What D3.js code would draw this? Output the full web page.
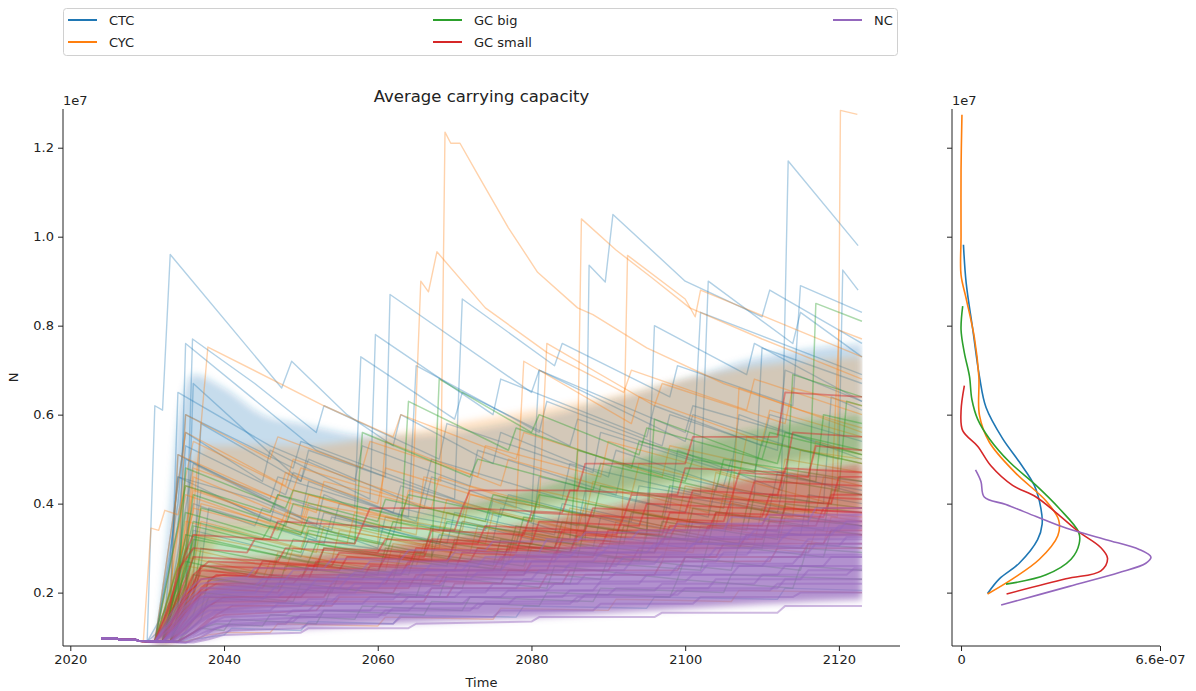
<!DOCTYPE html>
<html><head><meta charset="utf-8">
<script src="https://cdn.jsdelivr.net/npm/d3@7"></script>
<style>
html,body{margin:0;padding:0;background:#fff;}
text{font-family:"DejaVu Sans",sans-serif;fill:#222;}
</style></head>
<body><svg id="c" width="1196" height="691"></svg>
<script>
// ---------- DATA (values in millions; runs are flat [year, value, year, value ...]) ----------
const seriesNames = ["CTC","CYC","GC big","GC small","NC"];
const seriesColors = ["#1f77b4","#ff7f0e","#2ca02c","#d62728","#9467bd"];
const xTicks = [2020,2040,2060,2080,2100,2120];
const yTicks = [0.2,0.4,0.6,0.8,1.0,1.2];          // x 1e7
const densTicks = [0, 6.6e-7];
const densTickLabels = ["0","6.6e-07"];
const lastYear = 2123;
const startPhase = [2024,0.97, 2026,0.97, 2026.5,0.94, 2028.5,0.94, 2029,0.91];

// dense core of the many runs of each series: [year, low, high] (millions)
const ctcCore = [[2031.5,0.9,1.2],[2033,1.0,4.0],[2034,1.5,5.8],[2036,2.8,6.9],[2040,3.5,6.6],[2045,3.5,6.0],[2050,3.5,5.8],[2060,3.6,5.5],[2070,3.8,5.6],[2080,4.0,5.9],[2090,4.3,6.3],[2100,4.6,6.8],[2110,4.9,7.3],[2123,5.2,7.6]];
const cycCore = [[2032,0.9,1.2],[2033,0.9,2.5],[2035,1.5,4.5],[2038,2.8,5.3],[2040,3.3,5.3],[2050,3.4,5.3],[2060,3.5,5.5],[2070,3.7,5.8],[2080,3.9,6.1],[2090,4.2,6.4],[2100,4.5,6.8],[2110,4.8,7.1],[2123,5.0,7.3]];
const gcBigCore = [[2031.5,0.9,1.0],[2032,0.9,1.4],[2034,1.1,2.6],[2036,1.4,3.2],[2040,1.8,3.5],[2050,2.1,3.5],[2060,2.4,3.6],[2070,2.6,3.9],[2080,2.8,4.3],[2090,3.1,4.8],[2100,3.3,5.3],[2110,3.6,5.7],[2123,3.9,6.0]];
const gcSmallCore = [[2031,0.9,0.95],[2032,0.9,1.2],[2034,1.0,1.9],[2036,1.2,2.4],[2038,1.4,2.6],[2040,1.5,2.7],[2050,1.8,2.8],[2060,2.0,3.0],[2070,2.2,3.25],[2080,2.4,3.55],[2090,2.6,3.9],[2100,2.8,4.3],[2110,3.0,4.6],[2123,3.3,4.9]];
const ncCore = [[2030.5,0.88,0.92],[2032,0.9,1.1],[2034,0.92,1.5],[2036,0.95,1.9],[2038,1.0,2.1],[2040,1.1,2.25],[2050,1.2,2.4],[2060,1.3,2.55],[2070,1.38,2.72],[2080,1.45,2.9],[2090,1.55,3.15],[2100,1.65,3.4],[2110,1.75,3.6],[2123,1.85,3.8]];

const ctcRuns = [
 [2030,0.9, 2031,6.2, 2032,6.1, 2033,9.6, 2047.5,6.6, 2048.8,7.2, 2056,6.0, 2062,5.3, 2063,6.0, 2075,4.9, 2076,5.6, 2090,4.6, 2091,5.2, 2105,4.4, 2106,5.0, 2123,4.2],
 [2030,0.9, 2034,1.5, 2035,7.6, 2052,5.2, 2061,4.6, 2061.6,8.7, 2080,6.5, 2081,7.0, 2100,5.6, 2101,6.2, 2123,5.1],
 [2031,0.9, 2033,2.0, 2034,5.1, 2050,3.7, 2051,4.5, 2065,3.6, 2066,4.3, 2087,3.2, 2087.5,9.36, 2089.6,8.98, 2090.6,10.5, 2100,9.0, 2110,8.2, 2111,8.8, 2123,7.6],
 [2032,0.9, 2034,4.6, 2046,3.6, 2047,4.2, 2062,3.3, 2063,3.9, 2080,3.2, 2081,4.6, 2098,3.9, 2099,5.2, 2112.5,4.3, 2113.4,11.7, 2122.5,9.8],
 [2031,0.9, 2035,5.6, 2045,4.5, 2046,5.2, 2059,4.1, 2059.7,7.8, 2075,6.0, 2076,6.8, 2095,5.5, 2096,6.2, 2110,5.3, 2111,6.0, 2123,5.4],
 [2032,0.9, 2036,4.9, 2052,3.5, 2053,4.2, 2057,3.9, 2057.8,7.3, 2070,5.9, 2071,6.5, 2085,5.3, 2086,5.9, 2101,5.0, 2102,8.3, 2123,6.9],
 [2030,0.9, 2035,2.4, 2035.9,7.7, 2044,6.7, 2052,5.6, 2053,6.2, 2068,5.0, 2069,5.8, 2088,4.7, 2089,5.6, 2106,4.7, 2107,6.0, 2123,5.0],
 [2031,0.9, 2036,3.0, 2037,4.3, 2052,3.2, 2053,3.8, 2070,3.0, 2071,3.6, 2088,3.0, 2089,3.7, 2105,3.2, 2106,4.0, 2123,3.5],
 [2033,0.9, 2035,1.8, 2036,6.7, 2050,4.5, 2051,5.0, 2066,3.9, 2067,4.6, 2080,3.8, 2081,7.0, 2100,5.4, 2101,6.0, 2115,5.2, 2120,5.0, 2120.5,9.25, 2122.5,8.8],
 [2031,0.9, 2034,3.5, 2035,5.3, 2048,4.2, 2049,4.7, 2062,3.8, 2063,4.4, 2076,3.7, 2077,4.2, 2095,3.4, 2096,8.0, 2108,6.9, 2109,7.6, 2123,6.3],
 [2032,0.9, 2034,2.5, 2036,4.0, 2044,3.5, 2045,3.9, 2060,3.0, 2061,3.7, 2075,3.2, 2076,3.9, 2086,3.5, 2087,4.3, 2103,3.7, 2104,4.4, 2118,4.0, 2119,6.4, 2123,6.1],
 [2031,0.9, 2033,1.4, 2034,6.5, 2046,5.3, 2057,4.5, 2058,5.3, 2072,4.4, 2073,5.2, 2091,4.2, 2092,4.9, 2109,4.2, 2110,7.5, 2123,6.7],
 [2032,0.9, 2035,2.0, 2036,3.4, 2050,2.8, 2051,3.2, 2067,2.8, 2068,3.3, 2085,2.9, 2086,3.4, 2100,3.0, 2101,3.6, 2115,3.3, 2116,4.2, 2123,4.0],
 [2031,0.9, 2034,4.0, 2035,6.0, 2049,4.8, 2050,5.4, 2070,4.1, 2071,8.6, 2083,7.1, 2084,7.6, 2098,6.4, 2099,7.1, 2114,6.2, 2115,8.9, 2123,8.3],
 [2033,0.9, 2037,2.6, 2038,3.9, 2053,3.1, 2054,3.7, 2069,3.1, 2070,3.8, 2083,3.3, 2084,4.0, 2097,3.5, 2098,4.2, 2112,3.8, 2113,4.6, 2123,4.3],
 [2032,0.9, 2034,1.6, 2035,5.0, 2046,4.1, 2047,4.6, 2064,3.7, 2065,7.1, 2081,5.6, 2082,6.3, 2097,5.3, 2098,6.0, 2112,5.2, 2113,7.0, 2123,6.3],
 [2031,0.9, 2033,2.8, 2034,4.6, 2044,4.1, 2054,3.4, 2055,4.0, 2074,3.4, 2075,4.1, 2093,3.6, 2094,4.4, 2111,3.9, 2112,4.7, 2123,4.5],
 [2033,0.9, 2036,2.2, 2037,5.8, 2050,4.5, 2051,5.2, 2066,4.3, 2067,5.0, 2084,4.1, 2085,4.9, 2102,4.2, 2103,9.0, 2114,7.6, 2115,8.3, 2123,7.3],
 [2034,0.9, 2038,1.0, 2040,1.05, 2041,1.2, 2050,1.15, 2051,1.35, 2062,1.3, 2063,1.5, 2078,1.45, 2079,1.7, 2095,1.65, 2096,1.9, 2112,1.85, 2113,2.1, 2123,2.05]
];

const cycRuns = [
 [2031,0.9, 2034,3.4, 2035,4.2, 2050,3.3, 2051,3.9, 2065,3.3, 2066,4.6, 2068.2,4.5, 2068.75,12.35, 2069.5,12.1, 2070.7,12.1, 2073,11.4, 2077,10.2, 2080.8,9.2, 2086,8.4, 2088,8.25, 2095,7.5, 2105,6.7, 2115,6.1, 2123,5.7],
 [2032,0.9, 2035,2.5, 2036,4.6, 2050,3.6, 2051,4.2, 2068,3.4, 2069,4.1, 2086,3.4, 2087,4.0, 2104,3.5, 2105,4.2, 2119.8,3.7, 2120.2,12.84, 2122.4,12.75],
 [2031,0.9, 2035,5.6, 2048,4.4, 2049,5.0, 2064.5,4.1, 2065.6,9.0, 2066.6,8.76, 2067.7,9.66, 2074,8.4, 2082,7.4, 2092,6.5, 2093,7.0, 2108,6.1, 2109,6.8, 2123,6.0],
 [2031,0.9, 2036,3.8, 2037.9,7.52, 2053,6.2, 2062,5.5, 2063,6.0, 2078,5.0, 2079,5.6, 2097,4.6, 2098,5.3, 2116,4.6, 2117,5.4, 2123,5.1],
 [2031,0.9, 2034,2.3, 2035,3.6, 2052,2.9, 2053,3.5, 2070,2.9, 2071,3.6, 2085.8,3.0, 2086.5,10.4, 2091,9.7, 2095.5,9.1, 2100.6,8.4, 2110,7.7, 2123,6.8],
 [2032,0.9, 2036,4.3, 2050,3.5, 2051,4.0, 2071,3.4, 2072,4.2, 2091.8,3.6, 2092.5,9.58, 2100,8.6, 2101.3,8.2, 2102,8.8, 2123,7.3],
 [2029.5,0.9, 2030.5,3.45, 2031.5,3.4, 2032.3,3.85, 2034,3.75, 2035,4.4, 2048,3.6, 2049,4.3, 2063,3.6, 2064,4.3, 2080,3.6, 2081,4.3, 2099,3.6, 2100,4.4, 2117,3.8, 2118,4.6, 2123,4.4],
 [2032,0.9, 2034,1.7, 2035,3.0, 2048,2.5, 2049,3.0, 2065,2.6, 2066,3.1, 2083,2.7, 2084,3.2, 2101,2.9, 2102,3.5, 2118,3.1, 2119,3.7, 2123,3.6],
 [2031,0.9, 2033,1.5, 2034,5.1, 2047,4.1, 2048,4.7, 2060,4.0, 2061,4.8, 2078,3.9, 2079,7.2, 2093,5.8, 2094,6.4, 2110,5.4, 2111,6.1, 2123,5.5],
 [2033,0.9, 2036,2.8, 2037,4.0, 2056,3.1, 2057,3.8, 2074,3.1, 2075,3.8, 2091,3.2, 2092,3.9, 2106,3.4, 2107,6.6, 2123,5.6],
 [2031,0.9, 2034,2.0, 2035,2.8, 2046,2.4, 2047,2.9, 2061,2.5, 2062,3.1, 2077,2.7, 2078,3.3, 2094,2.8, 2095,3.4, 2112,3.0, 2113,3.7, 2123,3.5],
 [2032,0.9, 2035,4.6, 2036,5.4, 2049,4.3, 2050,4.8, 2067,3.9, 2068,4.6, 2081,3.9, 2082,7.6, 2096,6.2, 2097,6.7, 2113,5.8, 2114,6.6, 2123,6.2],
 [2031,0.9, 2035,3.2, 2036,4.8, 2052,3.8, 2053,4.5, 2071,3.7, 2072,4.4, 2087,3.7, 2088,4.5, 2103,3.8, 2104,4.7, 2119,4.0, 2120,7.9, 2123,7.7],
 [2033,0.9, 2035,1.6, 2036,3.3, 2054,2.7, 2055,3.4, 2072,2.9, 2073,3.5, 2090,3.0, 2091,3.6, 2109,3.1, 2110,3.9, 2123,3.7],
 [2032,0.9, 2034,2.2, 2035,6.0, 2046,5.0, 2047,5.5, 2058,4.8, 2059,5.4, 2073,4.6, 2074,5.3, 2089,4.6, 2090,5.4, 2107,4.6, 2108,5.5, 2123,4.9],
 [2031,0.9, 2034,1.9, 2035,2.6, 2045,2.3, 2046,2.7, 2062,2.4, 2063,2.9, 2079,2.5, 2080,3.0, 2097,2.7, 2098,3.2, 2116,2.9, 2117,3.4, 2123,3.3],
 [2033,0.9, 2036,2.5, 2037,3.6, 2050,3.0, 2051,3.5, 2060,3.1, 2061,5.4, 2076,4.4, 2077,5.0, 2093,4.2, 2094,4.9, 2112,4.1, 2113,5.0, 2123,4.7],
 [2032,0.9, 2035,3.0, 2036,3.9, 2047,3.4, 2048,3.8, 2068,3.0, 2069,3.8, 2084,3.2, 2085,3.9, 2100,3.4, 2101,4.2, 2114,3.7, 2115,5.2, 2123,5.0],
 [2035,0.9, 2038,1.05, 2040,1.1, 2046,1.1, 2047,1.3, 2060,1.25, 2061,1.45, 2075,1.4, 2076,1.65, 2090,1.6, 2091,1.85, 2106,1.8, 2107,2.05, 2123,2.0]
];

const gcBigRuns = [
 [2032,0.9, 2035,2.2, 2036,3.5, 2050,2.9, 2051,3.4, 2066,2.9, 2067,3.5, 2083,3.0, 2084,3.6, 2100,3.2, 2101,3.9, 2116,3.5, 2117,8.5, 2123,8.1],
 [2031,0.9, 2034,1.8, 2035,2.7, 2046,2.3, 2047,2.8, 2060,2.4, 2061,3.0, 2075,2.6, 2076,3.2, 2091,2.8, 2092,3.5, 2107,3.1, 2108,3.9, 2123,3.5],
 [2033,0.9, 2036,2.0, 2037,3.0, 2052,2.5, 2053,3.0, 2069,2.6, 2070,3.2, 2086,2.8, 2087,3.5, 2103,3.1, 2104,3.8, 2118,3.4, 2119,4.3, 2123,4.2],
 [2032,0.9, 2035,3.0, 2036,4.2, 2048,3.5, 2049,4.0, 2063,3.4, 2064,6.3, 2077,5.2, 2078,5.7, 2093,4.8, 2094,5.4, 2109,4.7, 2110,5.4, 2123,4.9],
 [2034,0.9, 2037,1.6, 2038,2.3, 2054,2.0, 2055,2.4, 2071,2.1, 2072,2.6, 2089,2.3, 2090,2.8, 2106,2.5, 2107,3.1, 2123,2.9],
 [2031,0.9, 2034,2.6, 2035,3.8, 2047,3.2, 2048,3.6, 2061,3.1, 2062,3.6, 2078,3.1, 2079,3.7, 2095,3.3, 2096,5.9, 2110,5.0, 2111,5.6, 2123,5.1],
 [2033,0.9, 2036,1.5, 2037,2.0, 2049,1.8, 2050,2.2, 2065,1.9, 2066,2.4, 2082,2.1, 2083,2.6, 2099,2.3, 2100,2.8, 2115,2.5, 2116,3.1, 2123,3.0],
 [2032,0.9, 2034,2.0, 2035,4.8, 2048,3.9, 2049,4.3, 2063,3.7, 2064,4.2, 2080,3.6, 2081,4.2, 2097,3.7, 2098,4.4, 2113,3.9, 2114,6.9, 2123,6.4],
 [2034,0.9, 2037,1.2, 2039,1.3, 2045,1.25, 2046,1.5, 2057,1.4, 2058,1.7, 2071,1.6, 2072,1.9, 2088,1.8, 2089,2.1, 2105,2.0, 2106,2.4, 2123,2.3],
 [2032,0.9, 2035,2.5, 2036,3.2, 2051,2.7, 2052,3.1, 2067,2.7, 2068,6.8, 2080,5.6, 2081,6.0, 2094,5.1, 2095,5.7, 2112,4.9, 2113,5.6, 2123,5.2],
 [2033,0.9, 2035,1.7, 2036,2.4, 2047,2.1, 2048,2.6, 2062,2.3, 2063,2.8, 2076,2.5, 2077,3.1, 2094,2.7, 2095,3.3, 2110,3.0, 2111,3.7, 2123,3.5],
 [2031,0.9, 2034,3.5, 2035,4.4, 2046,3.8, 2047,4.2, 2060,3.6, 2061,4.1, 2074,3.6, 2075,4.2, 2088,3.7, 2089,4.4, 2105,3.9, 2106,4.7, 2120,4.3, 2121,6.3, 2123,6.2],
 [2034,0.9, 2037,1.4, 2038,1.9, 2053,1.7, 2054,2.1, 2068,1.9, 2069,2.4, 2085,2.2, 2086,2.7, 2102,2.5, 2103,3.1, 2118,2.8, 2119,3.4, 2123,3.3],
 [2032,0.9, 2035,2.9, 2036,3.6, 2045,3.2, 2046,3.5, 2057,3.1, 2058,5.6, 2072,4.6, 2073,5.0, 2088,4.3, 2089,4.9, 2104,4.3, 2105,5.0, 2123,4.5],
 [2033,0.9, 2036,1.9, 2037,2.6, 2050,2.3, 2051,2.7, 2064,2.4, 2065,2.9, 2079,2.6, 2080,3.2, 2096,2.9, 2097,3.6, 2112,3.2, 2113,4.0, 2123,3.8],
 [2034,0.9, 2037,1.2, 2040,1.15, 2041,1.4, 2052,1.3, 2053,1.6, 2066,1.5, 2067,1.8, 2081,1.7, 2082,2.0, 2098,1.9, 2099,2.3, 2114,2.1, 2115,2.6, 2123,2.5],
 [2032,0.9, 2034,2.3, 2035,3.3, 2048,2.8, 2049,3.2, 2061,2.8, 2062,3.3, 2077,2.9, 2078,3.5, 2092,3.1, 2093,3.8, 2108,3.4, 2109,4.2, 2123,3.9],
 [2033,0.9, 2036,2.8, 2037,3.9, 2050,3.3, 2051,3.7, 2068,3.1, 2069,3.6, 2085,3.2, 2086,5.2, 2100,4.5, 2101,5.0, 2117,4.5, 2118,6.0, 2123,5.8]
];

const gcSmallRuns = [
 [2031,0.9, 2033,1.3, 2035,1.9, 2037,2.3, 2040,2.4, 2050,2.3, 2051,2.6, 2060,2.5, 2061,2.8, 2072,2.7, 2073,3.0, 2085,2.9, 2086,3.3, 2098,3.2, 2099,3.6, 2110,3.5, 2111,3.9, 2123,3.8],
 [2032,0.9, 2034,1.3, 2036,1.9, 2038,2.2, 2045,2.1, 2046,2.4, 2058,2.3, 2059,2.6, 2070,2.5, 2071,2.9, 2083,2.8, 2084,3.2, 2097,3.1, 2098,3.5, 2112,3.4, 2113,3.9, 2123,3.8],
 [2031,0.9, 2033,1.5, 2035,2.3, 2036,2.8, 2047,2.7, 2048,3.0, 2060,2.9, 2061,3.2, 2073,3.1, 2074,3.5, 2087,3.4, 2088,3.9, 2100,3.8, 2101,4.3, 2112,4.2, 2113,4.8, 2123,4.7],
 [2033,0.9, 2035,1.2, 2037,1.6, 2039,1.8, 2048,1.8, 2049,2.0, 2062,2.0, 2063,2.3, 2076,2.2, 2077,2.5, 2090,2.5, 2091,2.8, 2104,2.8, 2105,3.1, 2118,3.1, 2119,3.4, 2123,3.4],
 [2032,0.9, 2034,1.4, 2036,2.0, 2037,2.5, 2044,2.4, 2045,2.7, 2054,2.6, 2055,2.9, 2066,2.8, 2067,3.2, 2080,3.1, 2081,3.6, 2094,3.5, 2095,4.0, 2108,3.9, 2109,4.5, 2123,4.4],
 [2031,0.9, 2033,1.2, 2035,1.6, 2037,1.9, 2050,1.9, 2051,2.1, 2064,2.1, 2065,2.4, 2079,2.4, 2080,2.7, 2093,2.7, 2094,3.0, 2107,3.0, 2108,3.3, 2123,3.3],
 [2032,0.9, 2034,1.6, 2036,2.4, 2038,2.7, 2052,2.6, 2053,3.0, 2066,2.9, 2067,3.4, 2079,3.3, 2080,3.8, 2092,3.7, 2093,4.2, 2106,4.1, 2107,4.7, 2116,4.6, 2117,5.3, 2123,5.2],
 [2033,0.9, 2036,1.4, 2038,1.7, 2040,1.9, 2053,1.9, 2054,2.2, 2068,2.2, 2069,2.5, 2082,2.5, 2083,2.9, 2096,2.9, 2097,3.2, 2110,3.2, 2111,3.6, 2123,3.6],
 [2031,0.9, 2033,1.7, 2034,2.5, 2036,3.0, 2043,2.9, 2044,3.2, 2057,3.1, 2058,3.5, 2070,3.4, 2071,3.9, 2084,3.8, 2085,4.3, 2099,4.2, 2100,4.8, 2113,4.7, 2114,5.6, 2123,5.5],
 [2032,0.9, 2035,1.5, 2037,2.0, 2039,2.2, 2049,2.2, 2050,2.4, 2063,2.4, 2064,2.7, 2076,2.7, 2077,3.0, 2089,3.0, 2090,3.4, 2103,3.4, 2104,3.8, 2118,3.7, 2119,4.2, 2123,4.2],
 [2034,0.9, 2036,1.1, 2038,1.4, 2040,1.5, 2052,1.6, 2053,1.8, 2066,1.8, 2067,2.1, 2081,2.1, 2082,2.4, 2096,2.4, 2097,2.7, 2111,2.7, 2112,3.0, 2123,3.0],
 [2031,0.9, 2033,1.8, 2035,2.9, 2036,3.3, 2046,3.2, 2047,3.6, 2058,3.5, 2059,3.9, 2071,3.9, 2072,4.3, 2086,4.3, 2087,4.9, 2100,4.9, 2101,5.5, 2112,5.5, 2113,6.5, 2123,6.4],
 [2032,0.9, 2034,1.3, 2036,1.8, 2038,2.1, 2047,2.0, 2048,2.3, 2061,2.2, 2062,2.5, 2075,2.5, 2076,2.8, 2088,2.8, 2089,3.1, 2102,3.1, 2103,3.5, 2117,3.5, 2118,3.9, 2123,3.9],
 [2033,0.9, 2035,1.4, 2037,2.1, 2039,2.4, 2051,2.3, 2052,2.7, 2064,2.6, 2065,3.0, 2078,2.9, 2079,3.4, 2091,3.3, 2092,3.7, 2105,3.6, 2106,4.1, 2119,4.0, 2120,4.6, 2123,4.6],
 [2031,0.9, 2034,1.5, 2036,2.2, 2037,2.6, 2055,2.5, 2056,2.8, 2069,2.7, 2070,3.1, 2083,3.0, 2084,3.4, 2097,3.3, 2098,3.8, 2110,3.7, 2111,4.2, 2123,4.1],
 [2034,0.9, 2037,1.2, 2039,1.5, 2041,1.7, 2054,1.7, 2055,1.9, 2069,1.9, 2070,2.2, 2084,2.2, 2085,2.5, 2099,2.5, 2100,2.8, 2115,2.8, 2116,3.1, 2123,3.1]
];

const ncRuns = [
 [2031,0.9, 2033,1.2, 2035,1.6, 2037,1.9, 2040,2.0, 2046,2.0, 2047,2.2, 2055,2.1, 2056,2.3, 2065,2.3, 2066,2.5, 2076,2.5, 2077,2.7, 2088,2.7, 2089,2.9, 2100,2.9, 2101,3.1, 2112,3.1, 2113,3.3, 2123,3.3],
 [2032,0.9, 2034,1.1, 2036,1.4, 2038,1.6, 2042,1.65, 2050,1.7, 2051,1.85, 2062,1.85, 2063,2.0, 2074,2.0, 2075,2.2, 2086,2.2, 2087,2.4, 2098,2.4, 2099,2.6, 2110,2.6, 2111,2.8, 2123,2.8],
 [2031,0.9, 2033,1.4, 2035,1.9, 2037,2.2, 2041,2.3, 2048,2.3, 2049,2.5, 2058,2.5, 2059,2.7, 2069,2.7, 2070,2.9, 2081,2.9, 2082,3.2, 2093,3.2, 2094,3.4, 2105,3.4, 2106,3.7, 2116,3.6, 2117,3.9, 2123,3.9],
 [2033,0.9, 2035,1.0, 2037,1.2, 2039,1.35, 2045,1.4, 2052,1.45, 2053,1.6, 2064,1.6, 2065,1.75, 2077,1.75, 2078,1.9, 2090,1.95, 2091,2.1, 2103,2.1, 2104,2.3, 2115,2.3, 2116,2.5, 2123,2.5],
 [2032,0.9, 2034,1.3, 2036,1.7, 2038,2.0, 2044,2.0, 2045,2.2, 2054,2.2, 2055,2.4, 2063,2.4, 2064,2.6, 2073,2.6, 2074,2.8, 2085,2.8, 2086,3.0, 2096,3.0, 2097,3.2, 2108,3.2, 2109,3.4, 2120,3.4, 2121,3.6, 2123,3.6],
 [2034,0.9, 2036,1.0, 2038,1.15, 2040,1.25, 2048,1.3, 2049,1.45, 2060,1.45, 2061,1.6, 2072,1.6, 2073,1.75, 2085,1.75, 2086,1.9, 2098,1.9, 2099,2.05, 2111,2.05, 2112,2.2, 2123,2.2],
 [2031,0.9, 2033,1.3, 2035,1.7, 2037,2.0, 2043,2.1, 2051,2.1, 2052,2.3, 2061,2.3, 2062,2.5, 2071,2.5, 2072,2.7, 2083,2.7, 2084,2.9, 2095,2.9, 2096,3.1, 2107,3.1, 2108,3.3, 2119,3.3, 2120,3.5, 2123,3.5],
 [2033,0.9, 2035,1.1, 2037,1.4, 2039,1.6, 2046,1.6, 2047,1.75, 2058,1.75, 2059,1.9, 2070,1.9, 2071,2.05, 2082,2.05, 2083,2.2, 2094,2.2, 2095,2.4, 2106,2.4, 2107,2.6, 2118,2.6, 2119,2.8, 2123,2.8],
 [2032,0.9, 2034,1.2, 2036,1.5, 2038,1.8, 2045,1.85, 2046,2.0, 2057,2.0, 2058,2.15, 2068,2.15, 2069,2.3, 2080,2.3, 2081,2.5, 2092,2.5, 2093,2.7, 2104,2.7, 2105,2.9, 2116,2.9, 2117,3.1, 2123,3.1],
 [2035,0.88, 2037,0.95, 2039,1.05, 2041,1.15, 2050,1.2, 2051,1.3, 2062,1.3, 2063,1.45, 2075,1.45, 2076,1.6, 2088,1.6, 2089,1.75, 2101,1.75, 2102,1.9, 2114,1.9, 2115,2.0, 2123,2.0],
 [2031,0.9, 2033,1.5, 2035,2.0, 2037,2.3, 2043,2.35, 2044,2.55, 2053,2.55, 2054,2.75, 2063,2.75, 2064,2.95, 2074,2.95, 2075,3.15, 2086,3.15, 2087,3.35, 2098,3.35, 2099,3.55, 2110,3.55, 2111,3.75, 2123,3.75],
 [2032,0.9, 2034,1.15, 2036,1.45, 2038,1.7, 2044,1.75, 2054,1.8, 2055,1.95, 2066,1.95, 2067,2.1, 2078,2.1, 2079,2.3, 2090,2.3, 2091,2.45, 2102,2.45, 2103,2.65, 2114,2.65, 2115,2.85, 2123,2.85],
 [2033,0.9, 2035,1.2, 2037,1.6, 2039,1.85, 2047,1.9, 2048,2.05, 2056,2.05, 2057,2.2, 2067,2.2, 2068,2.4, 2079,2.4, 2080,2.6, 2091,2.6, 2092,2.8, 2103,2.8, 2104,3.0, 2115,3.0, 2116,3.2, 2123,3.2],
 [2034,0.9, 2036,1.05, 2038,1.3, 2040,1.45, 2048,1.5, 2049,1.6, 2059,1.6, 2060,1.75, 2071,1.75, 2072,1.9, 2084,1.9, 2085,2.05, 2096,2.05, 2097,2.2, 2109,2.2, 2110,2.4, 2121,2.4, 2122,2.55, 2123,2.55],
 [2032,0.9, 2034,1.25, 2036,1.65, 2038,1.9, 2043,1.95, 2050,1.95, 2051,2.1, 2060,2.1, 2061,2.3, 2072,2.3, 2073,2.45, 2084,2.45, 2085,2.65, 2096,2.65, 2097,2.85, 2108,2.85, 2109,3.05, 2120,3.05, 2121,3.25, 2123,3.25],
 [2035,0.88, 2037,1.0, 2039,1.2, 2041,1.3, 2049,1.35, 2050,1.5, 2061,1.5, 2062,1.65, 2073,1.65, 2074,1.8, 2086,1.8, 2087,1.95, 2099,1.95, 2100,2.1, 2112,2.1, 2113,2.3, 2123,2.3],
 [2031,0.9, 2033,1.35, 2035,1.8, 2037,2.1, 2044,2.15, 2045,2.3, 2056,2.3, 2057,2.45, 2066,2.45, 2067,2.65, 2077,2.65, 2078,2.85, 2089,2.85, 2090,3.05, 2101,3.05, 2102,3.25, 2113,3.25, 2114,3.45, 2123,3.45],
 [2033,0.9, 2035,1.1, 2037,1.35, 2039,1.55, 2051,1.6, 2052,1.75, 2063,1.75, 2064,1.9, 2076,1.9, 2077,2.05, 2088,2.05, 2089,2.25, 2100,2.25, 2101,2.4, 2112,2.4, 2113,2.6, 2123,2.6],
 [2036,0.88, 2038,0.95, 2040,1.05, 2050,1.1, 2051,1.2, 2064,1.2, 2065,1.3, 2080,1.35, 2081,1.45, 2096,1.45, 2097,1.55, 2112,1.55, 2113,1.7, 2123,1.7]
];

// KDE curves on the right: [N (millions), density (1e-7)], top to bottom
const kdeCTC = [[9.82,0.08],[8.96,0.17],[7.91,0.39],[6.86,0.61],[6.16,0.83],[5.46,1.38],[4.94,1.93],[4.41,2.43],[3.89,2.65],[3.54,2.69],[3.19,2.54],[2.66,1.93],[2.31,1.27],[1.98,0.88]];
const kdeCYC = [[12.74,0.03],[11.5,0.0],[10.01,0.0],[9.14,0.0],[8.61,0.17],[7.74,0.44],[6.86,0.59],[5.99,0.61],[5.38,0.94],[4.68,1.82],[4.06,2.82],[3.63,3.24],[3.28,3.21],[2.75,2.60],[2.31,1.71],[1.97,0.88]];
const kdeGCbig = [[8.44,0.055],[7.91,0.0],[7.39,0.11],[6.86,0.28],[6.34,0.36],[5.90,0.55],[5.46,0.94],[4.94,1.60],[4.41,2.49],[3.89,3.26],[3.36,3.90],[3.10,3.92],[2.75,3.65],[2.40,2.82],[2.19,1.49]];
const kdeGCsmall = [[6.65,0.11],[6.08,0.0],[5.64,0.055],[5.29,0.55],[4.85,0.99],[4.41,1.71],[4.15,2.49],[3.80,3.15],[3.36,3.92],[3.01,4.64],[2.77,4.86],[2.49,4.64],[2.31,3.48],[1.97,1.51]];
const kdeNC = [[4.76,0.48],[4.50,0.66],[4.15,0.77],[3.98,1.49],[3.71,2.49],[3.45,3.48],[3.19,4.81],[2.97,5.91],[2.80,6.30],[2.66,6.13],[2.45,5.25],[2.14,3.59],[1.72,1.33]];

// ---------- DRAW ----------
const svg = d3.select("#c");
const runsBySeries = [ctcRuns, cycRuns, gcBigRuns, gcSmallRuns, ncRuns];
const coresBySeries = [ctcCore, cycCore, gcBigCore, gcSmallCore, ncCore];
const kdes = [kdeCTC, kdeCYC, kdeGCbig, kdeGCsmall, kdeNC];
const FS = 13;

const M = {l:63, r:900, t:109, b:646};
const x = d3.scaleLinear().domain([2019.05, 2127.95]).range([M.l, M.r]);
const y = d3.scaleLinear().domain([0.08e7, 1.287e7]).range([M.b, M.t]);
const R = {l:952, r:1160};
const xd = d3.scaleLinear().domain([-0.3e-7, 6.6e-7]).range([R.l, R.r]);

function toPts(run){
  const flat = startPhase.concat(run);
  const pts = [];
  for(let i=0;i<flat.length;i+=2) pts.push([flat[i], flat[i+1]*1e6]);
  return pts;
}
const line = d3.line().x(d=>x(d[0])).y(d=>y(d[1]));
const area = d3.area().x(d=>x(d[0])).y0(d=>y(d[1]*1e6)).y1(d=>y(d[2]*1e6)).curve(d3.curveMonotoneX);

const defs = svg.append("defs");
defs.append("clipPath").attr("id","clipMain").append("rect")
  .attr("x",M.l).attr("y",M.t-4).attr("width",M.r-M.l).attr("height",M.b-M.t+4);
defs.append("clipPath").attr("id","clipCore").append("rect")
  .attr("x",M.l).attr("y",M.t).attr("width",x(lastYear)-M.l+0.5).attr("height",M.b-M.t);
defs.append("filter").attr("id","soft").attr("x","-10%").attr("y","-20%").attr("width","120%").attr("height","140%")
  .append("feGaussianBlur").attr("stdDeviation",3.5);

const gLines = svg.append("g").attr("clip-path","url(#clipMain)");
const widths = [1.4,1.4,1.5,1.8,2.0];
const alphas = [0.35,0.35,0.4,0.45,0.45];
const coreAlphas = [0.26,0.22,0.3,0.45,0.72];
runsBySeries.forEach((runs,si)=>{
  gLines.append("g").attr("clip-path","url(#clipCore)")
    .append("path").attr("d", area(coresBySeries[si]))
    .attr("fill", seriesColors[si]).attr("fill-opacity", coreAlphas[si]).attr("stroke","none")
    .attr("filter","url(#soft)");
  gLines.append("g").selectAll("path").data(runs).join("path")
    .attr("d", r=>line(toPts(r)))
    .attr("fill","none")
    .attr("stroke", seriesColors[si])
    .attr("stroke-opacity", alphas[si])
    .attr("stroke-width", widths[si])
    .attr("stroke-linejoin","round");
});

// Main axes
const axB = svg.append("g").attr("transform",`translate(0,${M.b})`)
  .call(d3.axisBottom(x).tickValues(xTicks).tickFormat(d3.format("d")).tickSize(5).tickPadding(4));
const axL = svg.append("g").attr("transform",`translate(${M.l},0)`)
  .call(d3.axisLeft(y).tickValues(yTicks.map(v=>v*1e7)).tickFormat(d=>(d/1e7).toFixed(1)).tickSize(5).tickPadding(4));
[axB,axL].forEach(a=>{
  a.selectAll("text").style("font-family","DejaVu Sans").style("font-size",FS+"px").attr("fill","#222");
  a.selectAll("line,path").attr("stroke","#222").attr("stroke-width",1);
});
axB.select(".domain").attr("d",`M${M.l},0H${M.r}`);
axL.select(".domain").attr("d",`M0,${M.b}V${M.t}`);

svg.append("text").attr("x",M.l).attr("y",M.t-4).attr("font-size",FS).text("1e7");
svg.append("text").attr("x",(M.l+M.r)/2).attr("y",102).attr("text-anchor","middle").attr("font-size",16.5).text("Average carrying capacity");
svg.append("text").attr("x",(M.l+M.r)/2).attr("y",687).attr("text-anchor","middle").attr("font-size",FS).text("Time");
svg.append("text").attr("transform",`translate(18,${(M.t+M.b)/2}) rotate(-90)`).attr("text-anchor","middle").attr("font-size",FS).text("N");

// Right panel
const axB2 = svg.append("g").attr("transform",`translate(0,${M.b})`)
  .call(d3.axisBottom(xd).tickValues(densTicks).tickFormat((d,i)=>densTickLabels[i]).tickSize(5).tickPadding(4));
const axL2 = svg.append("g").attr("transform",`translate(${R.l},0)`)
  .call(d3.axisLeft(y).tickValues(yTicks.map(v=>v*1e7)).tickFormat("").tickSize(5));
[axB2,axL2].forEach(a=>{
  a.selectAll("text").style("font-family","DejaVu Sans").style("font-size",FS+"px").attr("fill","#222");
  a.selectAll("line,path").attr("stroke","#222").attr("stroke-width",1);
});
axB2.select(".domain").attr("d",`M${R.l},0H${R.r}`);
axL2.select(".domain").attr("d",`M0,${M.b}V${M.t}`);
svg.append("text").attr("x",R.l).attr("y",M.t-4).attr("font-size",FS).text("1e7");

const kline = d3.line().x(d=>xd(d[1]*1e-7)).y(d=>y(d[0]*1e6)).curve(d3.curveCatmullRom.alpha(0.5));
kdes.forEach((k,i)=>{
  svg.append("path").attr("d",kline(k)).attr("fill","none")
    .attr("stroke",seriesColors[i]).attr("stroke-width",1.6);
});

// Legend
const lg = svg.append("g");
lg.append("rect").attr("x",63.5).attr("y",8.5).attr("width",834).attr("height",47).attr("rx",3)
  .attr("fill","#fff").attr("stroke","#d0d0d0");
const legPos = [[68,20],[68,42],[433,20],[433,42],[833,20]];
seriesNames.forEach((n,i)=>{
  const [lx,ly] = legPos[i];
  lg.append("line").attr("x1",lx).attr("x2",lx+29).attr("y1",ly).attr("y2",ly)
    .attr("stroke",seriesColors[i]).attr("stroke-width",2);
  lg.append("text").attr("x",lx+41).attr("y",ly+5).attr("font-size",FS).text(n);
});
</script></body></html>
